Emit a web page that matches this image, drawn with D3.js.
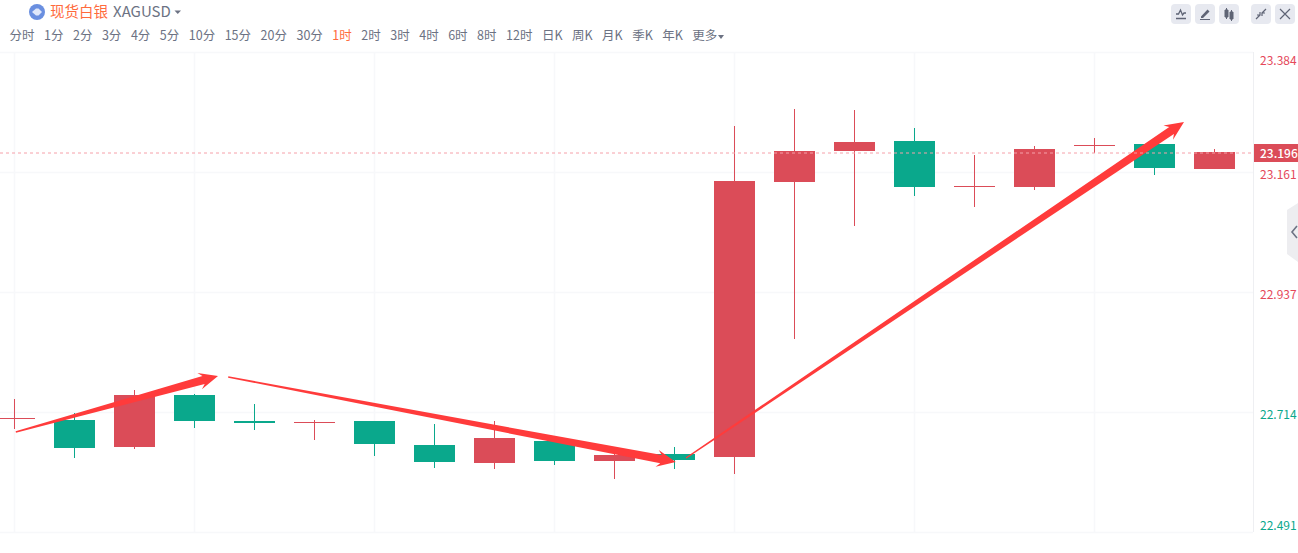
<!DOCTYPE html>
<html lang="zh">
<head>
<meta charset="UTF-8">
<title>现货白银 XAGUSD</title>
<script src="https://d3js.org/d3.v7.min.js"></script>
<style>
  html, body { margin: 0; padding: 0; background: #fff; overflow: hidden; }
  body { width: 1298px; height: 553px; position: relative; font-family: "Noto Sans CJK SC", "Noto Sans", sans-serif; }
  svg { position: absolute; left: 0; top: 0; }
  #periods { position: absolute; left: 9.5px; top: 26px; display: flex; gap: 9.5px; font-size: 12.5px; line-height: 18px; color: #6c7283; white-space: nowrap; }
  #periods .on { color: #ff6b3d; }
  #periods i { display: inline-block; width: 0; height: 0; margin-left: 1px; vertical-align: 1px; border: 3px solid transparent; border-top: 4px solid #6c7283; border-bottom: 0; }
</style>
</head>
<body>
<svg id="chart" width="1298" height="553"></svg>
<div id="periods"></div>
<script>
// toolbar
const periods = ['分时','1分','2分','3分','4分','5分','10分','15分','20分','30分','1时','2时','3时','4时','6时','8时','12时','日K','周K','月K','季K','年K','更多'];
const activePeriod = '1时';

// candles, oldest first
const opens  = [22.7031,22.6993,22.6491,22.7458,22.6975,22.6956,22.6975,22.6528,22.6194,22.6603,22.6231,22.6361,22.6305,23.1420,23.1997,23.2183,23.1346,23.1327,23.2109,23.2127,23.1662];
const highs  = [22.7384,22.7124,22.7551,22.7477,22.7291,22.6993,22.6975,22.6919,22.6975,22.6603,22.6380,22.6491,23.2462,23.2778,23.2760,23.2425,23.1923,23.2090,23.2239,23.2127,23.2034];
const lows   = [22.6826,22.6287,22.6454,22.6845,22.6807,22.6621,22.6324,22.6101,22.6082,22.6156,22.5896,22.6082,22.5989,22.8500,23.0602,23.1160,23.0955,23.1272,23.1960,23.1551,23.1662];
const closes = [22.7031,22.6473,22.7458,22.6975,22.6938,22.6956,22.6547,22.6212,22.6659,22.6231,22.6342,22.6249,23.1439,23.1997,23.2164,23.1327,23.1346,23.2034,23.2109,23.1681,23.1978];

const priceTicks = [22.491, 22.714, 22.937, 23.161, 23.384];
const lastPrice = 23.196;

// hand drawn arrows: [candle index, price] start and end
const arrowFrom = [[0.03,22.6770],[3.57,22.7793],[11.2,22.6287]];
const arrowTo   = [[3.4,22.7812],[11.03,22.6212],[19.5,23.2537]];

const red = '#db4c58', green = '#0aa88c', gridColor = '#f7f8fa';
const plotRight = 1253;

const svg = d3.select('#chart');

const y = d3.scaleLinear().domain([22.491, 23.384]).range([532, 52]);
const x = d3.scaleLinear().domain([0, 20]).range([14, 1214]);
const bodyWidth = 41;
const px = v => Math.round(y(v));

// clip so the first candle and arrows stop at the plot edges
svg.append('defs').append('clipPath').attr('id', 'plot')
  .append('rect').attr('x', 0).attr('y', 52).attr('width', plotRight).attr('height', 480);

// grid
const verticals = d3.range(0, 21, 3);
svg.append('g').selectAll('line').data(verticals).join('line')
  .attr('x1', d => x(d) + 0.5).attr('x2', d => x(d) + 0.5)
  .attr('y1', 52).attr('y2', 532)
  .attr('stroke', gridColor).attr('stroke-width', 1.5);
svg.append('g').selectAll('line').data(priceTicks.concat([])).join('line')
  .attr('x1', 0).attr('x2', plotRight)
  .attr('y1', d => px(d) + 0.5).attr('y2', d => px(d) + 0.5)
  .attr('stroke', gridColor).attr('stroke-width', 1.5);

// right axis
const axis = svg.append('g').attr('transform', `translate(${plotRight + 0.5},0)`)
  .call(d3.axisRight(y).tickValues(priceTicks).tickSize(0).tickPadding(6.5).tickFormat(d3.format('.3f')));
axis.select('.domain').attr('stroke', '#eeeff2').attr('d', 'M0,52V532');
axis.selectAll('text')
  .attr('font-family', '"Noto Sans CJK SC", "Noto Sans", sans-serif')
  .attr('font-size', 12)
  .attr('fill', d => d > 22.8 ? '#e5485a' : '#0aa88c')
  .attr('dy', d => d === 23.384 ? '1.05em' : d === 22.491 ? '-0.22em' : '0.55em');

// candles
const candles = opens.map((o, i) => ({ i, o, h: highs[i], l: lows[i], c: closes[i] }));
const isUp = d => d.c >= d.o;
const plot = svg.append('g').attr('clip-path', 'url(#plot)');
const g = plot.selectAll('g').data(candles).join('g')
  .attr('fill', d => isUp(d) ? red : green);
g.append('rect')
  .attr('x', d => x(d.i))
  .attr('width', 1)
  .attr('y', d => px(d.h))
  .attr('height', d => px(d.l) - px(d.h));
g.append('rect')
  .attr('x', d => x(d.i) - 20)
  .attr('width', bodyWidth)
  .attr('y', d => px(Math.max(d.o, d.c)))
  .attr('height', d => Math.max(1, Math.abs(px(d.o) - px(d.c))));

// last price line and label
svg.append('line')
  .attr('x1', 0).attr('x2', plotRight)
  .attr('y1', px(lastPrice)).attr('y2', px(lastPrice))
  .attr('stroke', '#f6a0a9').attr('stroke-dasharray', '3,3');
svg.append('rect').attr('x', 1254).attr('y', px(lastPrice) - 9)
  .attr('width', 44).attr('height', 18).attr('fill', red);
svg.append('text').attr('x', 1260).attr('y', px(lastPrice) + 5)
  .attr('font-size', 12).attr('font-weight', 500).attr('fill', '#fff')
  .text(d3.format('.3f')(lastPrice));

// tapered arrows, thin at the tail, barbs swept back
function arrowPath(a, b) {
  const x0 = x(a[0]), y0 = y(a[1]), x1 = x(b[0]), y1 = y(b[1]);
  const len = Math.hypot(x1 - x0, y1 - y0);
  const ux = (x1 - x0) / len, uy = (y1 - y0) / len;
  const nx = -uy, ny = ux;
  const head = 15, neck = 4.2, wing = 8.5, tail = 0.7;
  const bx = x1 - ux * head, by = y1 - uy * head;
  const pts = [
    [x0 + nx * tail, y0 + ny * tail],
    [bx + nx * neck, by + ny * neck],
    [bx + nx * wing - ux * 4, by + ny * wing - uy * 4],
    [x1, y1],
    [bx - nx * wing - ux * 4, by - ny * wing - uy * 4],
    [bx - nx * neck, by - ny * neck],
    [x0 - nx * tail, y0 - ny * tail]
  ];
  return d3.line()(pts) + 'Z';
}
plot.append('g').selectAll('path').data(arrowFrom).join('path')
  .attr('d', (d, i) => arrowPath(d, arrowTo[i]))
  .attr('fill', '#ff3b3b');

// header
const logo = svg.append('g').attr('transform', 'translate(37,12)');
logo.append('circle').attr('r', 8).attr('fill', '#6a8fe0');
logo.append('path').attr('d', 'M-5,0L-1,-3.5H1.5L5,0L1.5,3.5H-1Z').attr('fill', '#dfe7fa');
svg.append('text').attr('x', 50).attr('y', 16.5).attr('font-size', 14.5).attr('fill', '#ff6b3d').text('现货白银');
svg.append('text').attr('x', 113).attr('y', 16.5).attr('font-size', 15).attr('fill', '#6c7283').text('XAGUSD');
svg.append('path').attr('d', 'M174.5,10.5h6.5l-3.25,3.5Z').attr('fill', '#6c7283');

// toolbar
const bar = d3.select('#periods').selectAll('span').data(periods).join('span')
  .attr('class', d => d === activePeriod ? 'on' : null)
  .text(d => d);
bar.filter(d => d === '更多').append('i');

// icon buttons
const buttons = [
  { x: 1171, d: 'M5,14.5H15M5,10H7.5L9.5,6L11.5,11L13,9H15', stroke: 1.3, fill: 'none' },
  { x: 1195, d: 'M5,15H15V16H5ZM6,12.5L12.5,5.5L14.5,7.5L8,14H6Z', stroke: 0, fill: '#5f6475' },
  { x: 1219, d: 'M6,6H9V13H6ZM11,8H14V15H11ZM7.5,4V15M12.5,6V17', stroke: 1, fill: '#5f6475' },
  { x: 1251, d: 'M5,15L9,11M11,9L15,5M9,8V11H6M11,12V9H14', stroke: 1.2, fill: 'none' },
  { x: 1275, d: 'M5,5L15,15M15,5L5,15', stroke: 1.2, fill: 'none' }
];
const btn = svg.append('g').selectAll('g').data(buttons).join('g')
  .attr('transform', d => `translate(${d.x},4)`);
btn.append('rect').attr('width', 20).attr('height', 20).attr('rx', 4).attr('fill', '#e7e9f0');
btn.append('path').attr('d', d => d.d).attr('fill', d => d.fill)
  .attr('stroke', '#5f6475').attr('stroke-width', d => d.stroke);

// side handle
svg.append('path').attr('d', 'M1298,203L1287,210V254L1298,262Z').attr('fill', '#ededf0');
svg.append('path').attr('d', 'M1297,226L1292,232L1297,238').attr('fill', 'none')
  .attr('stroke', '#6c7283').attr('stroke-width', 1.6);
</script>
</body>
</html>
